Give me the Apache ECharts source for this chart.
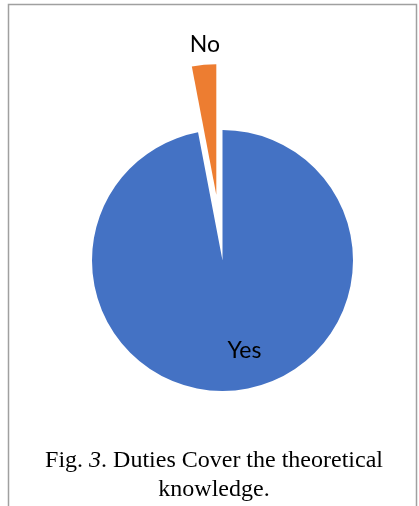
<!DOCTYPE html>
<html>
<head>
<meta charset="utf-8">
<script src="https://cdn.jsdelivr.net/npm/echarts@6/dist/echarts.min.js"></script>
<style>
  html, body { margin: 0; padding: 0; background: #fff; }
  #chart { width: 419px; height: 506px; }
</style>
</head>
<body>
<div id="chart"></div>
<script>
// answers and their share
const categories = ["Yes", "No"];
const values = [97, 3];
const colors = ["#4472C4", "#ED7D31"];

const chart = echarts.init(document.getElementById("chart"));

// spacer lines push the labels to where the original has them
const pieData = categories.map((name, i) => ({
  name: name,
  value: values[i],
  selected: name === "No",
  itemStyle: { color: colors[i] },
  label: name === "Yes"
    ? { position: "inside", formatter: "{s| }\n{a|{b}}", padding: [0, 0, 0, 31], rich: { s: { lineHeight: 44 } } }
    : { position: "inside", formatter: "{a|{b}}\n{s| }", padding: [0, 10, 0, 0], rich: { s: { lineHeight: 164 } } },
}));

const textFont = { fontFamily: "Liberation Serif", fontSize: 24, lineHeight: 29, color: "#000", fontWeight: "normal" };

chart.setOption({
  animation: false,
  backgroundColor: "#fff",
  title: {
    text: "{n|Fig. }{i|3}{n|. Duties Cover the theoretical}\n{n|knowledge.}",
    left: 209,
    top: 441,
    textAlign: "center",
    textStyle: {
      fontWeight: "normal",
      rich: {
        n: textFont,
        i: Object.assign({}, textFont, { fontStyle: "italic" }),
      },
    },
  },
  graphic: [
    {
      type: "rect",
      silent: true,
      shape: { x: 8.5, y: 4.5, width: 408, height: 530 },
      style: { fill: null, stroke: "#A0A0A0", lineWidth: 1.5 },
    },
  ],
  series: [
    {
      type: "pie",
      center: [222.5, 260.5],
      radius: 130.5,
      startAngle: 90,
      clockwise: true,
      selectedMode: "single",
      selectedOffset: 66,
      avoidLabelOverlap: false,
      label: {
        show: true,
        color: "#000",
        fontFamily: "Lato",
        fontSize: 23,
        rich: {
          a: { fontFamily: "Lato", fontSize: 23, lineHeight: 28, color: "#000" },
        },
      },
      labelLine: { show: false },
      emphasis: { disabled: true },
      data: pieData,
    },
  ],
});
</script>
</body>
</html>
